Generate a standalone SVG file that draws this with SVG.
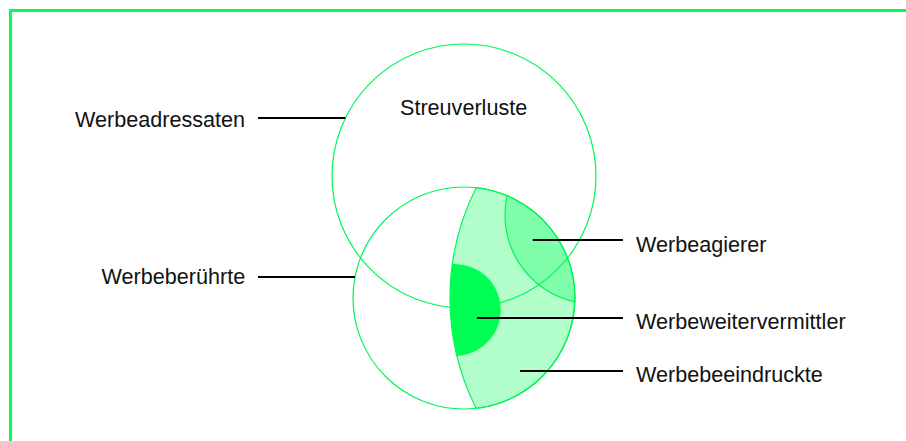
<svg xmlns="http://www.w3.org/2000/svg" width="906" height="441" viewBox="0 0 906 441">
<style>
.lbl{font-family:"Liberation Sans",Arial,sans-serif;font-size:21.6px;fill:#111}
.ring{fill:none;stroke:#00f55a;stroke-width:1.2}
.edge{stroke:#00f55a;stroke-width:1.2}
.con{stroke:#000;stroke-width:2;fill:none}
</style>
<rect width="906" height="441" fill="#fff"/>
<g id="frame">
<line x1="9" y1="10.5" x2="906" y2="10.5" stroke="#00ff55" stroke-width="3"/>
<line x1="10.5" y1="9" x2="10.5" y2="441" stroke="#00ff55" stroke-width="3"/>
</g>
<g id="werbebeeindruckte">
<path class="edge" fill="#b3ffcc" d="M476.1,187.7 A111,111 0 0 1 476.1,408.3 A246,246 0 0 1 476.1,187.7 Z"/>
<text class="lbl" x="636" y="381.7">Werbebeeindruckte</text>
</g>
<g id="werbeagierer">
<path class="edge" fill="#80ffaa" d="M507.1,195.7 A111,111 0 0 1 574.9,301.9 A89,89 0 0 1 507.1,195.7 Z"/>
<text class="lbl" x="636" y="251.7">Werbeagierer</text>
</g>
<g id="werbeadressaten">
<circle class="ring" cx="464" cy="176" r="132"/>
<text class="lbl" x="75" y="126.7">Werbeadressaten</text>
</g>
<g id="werbeberuehrte">
<circle class="ring" cx="464" cy="298" r="111"/>
<text class="lbl" x="101.5" y="284.3">Werbeberührte</text>
</g>
<g id="werbeweitervermittler">
<path fill="#00ff55" d="M452.4,264 A46,46 0 0 1 456.9,355.9 A246,246 0 0 1 452.4,264 Z"/>
<text class="lbl" x="636" y="329.3">Werbeweitervermittler</text>
</g>
<g id="streuverluste">
<text class="lbl" x="400" y="114.5">Streuverluste</text>
</g>
<g id="connectors">
<line class="con" x1="258" y1="118" x2="345.4" y2="118"/>
<line class="con" x1="258" y1="277" x2="355" y2="277"/>
<line class="con" x1="532.7" y1="240" x2="623" y2="240"/>
<line class="con" x1="477" y1="318" x2="623" y2="318"/>
<line class="con" x1="520" y1="371" x2="623" y2="371"/>
</g>
</svg>
